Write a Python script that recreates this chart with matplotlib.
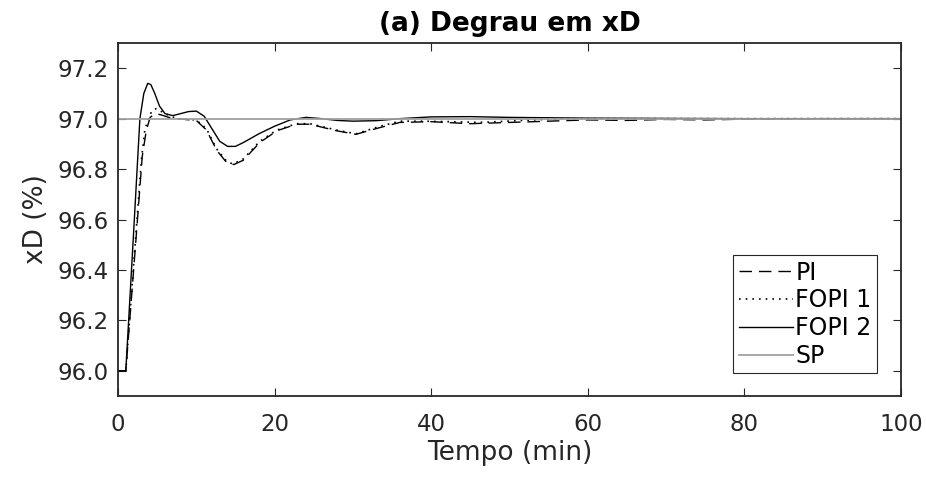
# (a) Degrau em xD: PI vs FOPI 1 vs FOPI 2 step response
import matplotlib
matplotlib.use("Agg")
import matplotlib.pyplot as plt
from matplotlib.ticker import FormatStrFormatter

plt.rcParams["font.family"] = ["DejaVu Sans"]

# FOPI 2 (solid)
t_fopi2 = [0, 1, 2, 2.8, 3.3, 3.8, 4.2, 4.7, 5.3, 6, 7, 8, 9, 10, 11, 12,
           13, 14, 15, 16, 18, 20, 22, 24, 26, 28, 30, 33, 36, 40, 45, 50,
           60, 70, 80, 90, 100]
y_fopi2 = [96.0, 96.0, 96.55, 97.0, 97.1, 97.14, 97.135, 97.1, 97.05, 97.02,
           97.012, 97.02, 97.028, 97.03, 97.01, 96.96, 96.91, 96.89, 96.89,
           96.905, 96.94, 96.97, 96.995, 97.005, 97.0, 96.993, 96.99, 96.992,
           97.0, 97.007, 97.008, 97.005, 97.002, 97.001, 97.0, 97.0, 97.0]

# FOPI 1 (dotted)
t_fopi1 = [0, 1, 2, 3, 3.45, 4.3, 4.9, 6, 7.5, 10, 11.3, 12.6, 13.9, 14.7,
           16, 18.1, 20.3, 22.8, 24.5, 27.9, 30.4, 33.5, 36, 38.6, 42.4, 46.2,
           49.7, 53, 57, 65, 75, 85, 100]
y_fopi1 = [96.0, 96.0, 96.42, 96.84, 96.96, 97.03, 97.04, 97.02, 97.0, 96.995,
           96.96, 96.88, 96.83, 96.82, 96.84, 96.91, 96.955, 96.98, 96.98,
           96.955, 96.94, 96.97, 96.99, 96.99, 96.988, 96.985, 96.99, 96.995,
           97.0, 97.0, 97.0, 97.0, 97.0]

# PI (dashed)
t_pi = [0, 1, 2, 3.1, 3.6, 4.1, 4.8, 5.5, 6.5, 7.5, 10, 11.3, 12.6, 13.9,
        14.8, 16, 18.1, 20.3, 22.8, 24.5, 27.9, 30.4, 33.5, 36, 40, 45, 50,
        55, 60, 65, 70, 75, 80, 90, 100]
y_pi = [96.0, 96.0, 96.4, 96.85, 96.95, 97.005, 97.02, 97.015, 97.005, 97.0,
        96.993, 96.955, 96.875, 96.825, 96.818, 96.835, 96.905, 96.952,
        96.978, 96.978, 96.952, 96.938, 96.965, 96.985, 96.988, 96.98, 96.985,
        96.99, 96.995, 96.993, 96.997, 96.995, 96.998, 97.0, 97.0]

# setpoint
t_sp = [0, 100]
y_sp = [97.0, 97.0]

fig = plt.figure(figsize=(9.26, 4.79), dpi=100)
ax = fig.add_axes([0.1274, 0.1733, 0.8456, 0.7369])

ax.plot(t_pi, y_pi, color="k", lw=1.0, dashes=(9, 5), label="PI")
ax.plot(t_fopi1, y_fopi1, color="k", lw=1.2, dashes=(1, 3), label="FOPI 1")
ax.plot(t_fopi2, y_fopi2, color="k", lw=1.0, label="FOPI 2")
ax.plot(t_sp, y_sp, color="#a0a0a0", lw=1.3, label="SP")

ax.set_xlim(0, 100)
ax.set_ylim(95.9, 97.3)
ax.set_xticks(range(0, 101, 20))
ax.set_yticks([96.0, 96.2, 96.4, 96.6, 96.8, 97.0, 97.2])
ax.yaxis.set_major_formatter(FormatStrFormatter("%.1f"))
ax.tick_params(direction="in", top=True, right=True, length=6,
               width=0.8, labelsize=16.5, colors="#262626",
               labelcolor="#262626")
ax.tick_params(axis="x", pad=12)
ax.tick_params(axis="y", pad=7)
for s in ax.spines.values():
    s.set_color("#262626")
    s.set_linewidth(1.3)

ax.set_xlabel("Tempo (min)", fontsize=19, color="#262626", labelpad=3)
ax.set_ylabel("xD (%)", fontsize=19, color="#262626", labelpad=6)
ax.set_title("(a) Degrau em xD", fontsize=19, fontweight="bold", pad=9)

leg = ax.legend(loc="lower right", bbox_to_anchor=(0.969, 0.065),
                fontsize=17, fancybox=False, framealpha=1,
                edgecolor="#262626", handlelength=2.3, handletextpad=0.1,
                labelspacing=0.16, borderpad=0.22, borderaxespad=0)
leg.get_frame().set_linewidth(0.8)

fig.savefig("out.png", dpi=100)
